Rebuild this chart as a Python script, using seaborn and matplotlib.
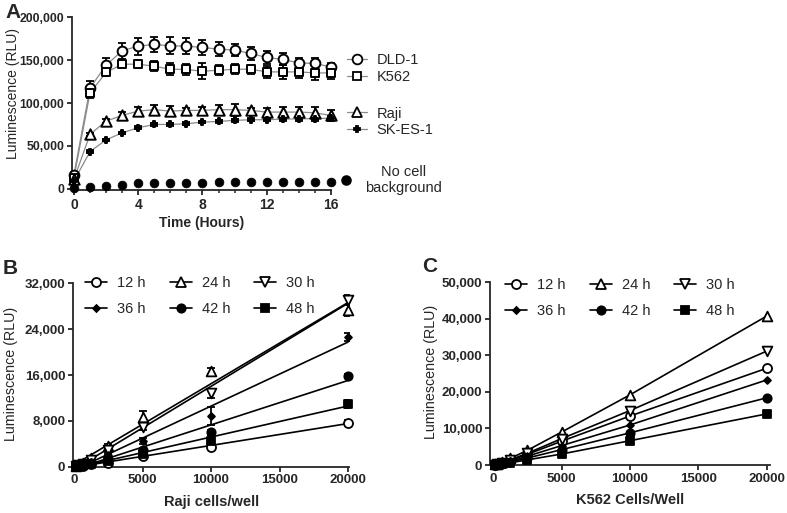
"""
Luminescence time course (A) and cell titration curves (B, C).
"""

import numpy as np
import pandas as pd
import matplotlib
matplotlib.use("Agg")
import matplotlib.pyplot as plt
import seaborn as sns
from matplotlib.lines import Line2D
from matplotlib.ticker import MultipleLocator, StrMethodFormatter

# ---- panel A data: time course ----
hours = list(range(17))
dld1 = [16000, 117500, 144100, 160900, 166400, 168300, 166700, 166400, 164800,
        162900, 161700, 157800, 153100, 150800, 146800, 146100, 142100]
dld1_err = [3000, 8000, 8000, 9000, 10000, 9000, 10000, 9000, 9000,
            8000, 7000, 8000, 8000, 7000, 6000, 6000, 5000]
k562 = [13000, 111700, 135600, 145300, 145300, 142900, 139400, 139100, 137100,
        138200, 139400, 139400, 136300, 136300, 136300, 135100, 135100]
k562_err = [3000, 6000, 4000, 3000, 4000, 6000, 7000, 6000, 9000,
            6000, 6000, 5000, 7000, 8000, 7000, 8000, 7000]
raji = [11000, 63300, 78900, 85500, 90600, 92200, 90600, 91400, 91400,
        92200, 92200, 91400, 89400, 89400, 89400, 88600, 85500]
raji_err = [2000, 2000, 2000, 4000, 5000, 6000, 6000, 3000, 4000,
            6000, 7000, 3000, 5000, 6000, 6000, 7000, 6000]
skes1 = [9000, 43300, 57000, 65200, 71100, 75000, 75000, 75800, 77700,
         78500, 79700, 80500, 80500, 81200, 81500, 81800, 82400]
skes1_err = [1500, 1500, 1500, 1500, 1500, 1500, 1500, 1500, 1500,
             1500, 2000, 2000, 2000, 2000, 2500, 2500, 2500]
nocell = [500, 1500, 2700, 4700, 6200, 7000, 7000, 7000, 7000,
          7400, 7400, 7400, 7400, 7400, 7400, 7400, 7400]

# ---- panels B, C data: cells per well ----
cells = [156, 312, 625, 1250, 2500, 5000, 10000, 20000]
time_labels = ["12 h", "24 h", "30 h", "36 h", "42 h", "48 h"]

raji_cells = {
    "12 h": [50, 100, 200, 400, 700, 1800, 3400, 7700],
    "24 h": [150, 300, 700, 1500, 3600, 8700, 16700, 27300],
    "30 h": [120, 250, 550, 1200, 2900, 7000, 12800, 29100],
    "36 h": [100, 200, 400, 900, 2000, 4500, 8900, 22700],
    "42 h": [80, 150, 300, 600, 1300, 3000, 6000, 15800],
    "48 h": [60, 120, 250, 500, 1000, 2200, 4500, 11000],
}
raji_cells_err = {
    "12 h": [0, 0, 0, 50, 100, 300, 400, 500],
    "24 h": [0, 50, 100, 200, 300, 1000, 600, 1000],
    "30 h": [0, 50, 100, 200, 300, 600, 800, 800],
    "36 h": [0, 0, 50, 100, 300, 500, 1600, 700],
    "42 h": [0, 0, 50, 100, 200, 300, 400, 400],
    "48 h": [0, 0, 50, 100, 200, 300, 400, 700],
}
k562_cells = {
    "12 h": [100, 250, 550, 1250, 2900, 6500, 13400, 26500],
    "24 h": [150, 350, 800, 1800, 4000, 9000, 19200, 40800],
    "30 h": [120, 280, 600, 1400, 3200, 7200, 14900, 31200],
    "36 h": [90, 200, 450, 1000, 2400, 5300, 10950, 23300],
    "42 h": [70, 160, 350, 800, 1900, 4200, 8800, 18400],
    "48 h": [50, 120, 280, 600, 1400, 3000, 6650, 14000],
}

W, H = 787, 513

sns.set_style("ticks")
plt.rcParams["font.family"] = ["Liberation Sans", "DejaVu Sans"]
plt.rcParams["axes.linewidth"] = 1.3
plt.rcParams["xtick.major.width"] = 1.3
plt.rcParams["ytick.major.width"] = 1.3
plt.rcParams["xtick.minor.width"] = 1.1
plt.rcParams["xtick.major.size"] = 3.5
plt.rcParams["ytick.major.size"] = 3.5
plt.rcParams["xtick.minor.size"] = 2.2

fig = plt.figure(figsize=(W / 100, H / 100), dpi=100)


def px_axes(left, top, right, bottom):
    return fig.add_axes([left / W, 1 - bottom / H, (right - left) / W, (bottom - top) / H])


def style_ticks(ax, size=9.5):
    for lab in ax.get_xticklabels() + ax.get_yticklabels():
        lab.set_fontweight("bold")
        lab.set_fontsize(size)


# ================= Panel A =================
axA = px_axes(72, 17.3, 331, 190)
series_a = [
    ("DLD-1", dld1, dld1_err, "o", "white", 7.0),
    ("K562", k562, k562_err, "s", "white", 6.3),
    ("Raji", raji, raji_err, "^", "white", 7.5),
    ("SK-ES-1", skes1, skes1_err, "P", "black", 5.0),
]
for name, vals, err, mk, fc, ms in series_a:
    df = pd.DataFrame({"h": hours, "v": vals})
    sns.lineplot(data=df, x="h", y="v", ax=axA, color="#8a8a8a", lw=0.9, zorder=2)
    axA.errorbar(hours, vals, yerr=err, fmt="none", ecolor="black", elinewidth=1.3,
                 capsize=3.2, capthick=1.3, zorder=3, clip_on=False)
    sns.scatterplot(data=df, x="h", y="v", ax=axA, marker=mk, s=ms ** 2,
                    facecolor=fc, edgecolor="black", linewidth=1.4, zorder=4, clip_on=False)

df_nc = pd.DataFrame({"h": hours, "v": nocell})
sns.scatterplot(data=df_nc, x="h", y="v", ax=axA, marker="o", s=40, color="black",
                edgecolor="black", zorder=4, clip_on=False)

axA.set_xlim(-0.12, 16)
axA.set_ylim(-1500, 200000)
axA.xaxis.set_major_locator(MultipleLocator(4))
axA.xaxis.set_minor_locator(MultipleLocator(1))
axA.yaxis.set_major_locator(MultipleLocator(50000))
axA.yaxis.set_major_formatter(StrMethodFormatter("{x:,.0f}"))
sns.despine(ax=axA)
axA.set_xlabel("Time (Hours)", fontsize=10, fontweight="bold", labelpad=3)
axA.set_ylabel("Luminescence (RLU)", fontsize=10)
axA.yaxis.set_label_coords(-0.2, 0.56)
axA.tick_params(axis="both", pad=2)
style_ticks(axA, 10)
for lab in axA.get_yticklabels():
    lab.set_fontsize(8.8)

# legends for A
def a_handle(mk, fc, ms, line=True):
    return Line2D([], [], color="#8a8a8a" if line else "none", lw=0.9, marker=mk,
                  markersize=ms, markerfacecolor=fc, markeredgecolor="black",
                  markeredgewidth=1.3)


leg_kw = dict(frameon=False, fontsize=10.5, borderpad=0, borderaxespad=0,
              handlelength=1.37, handletextpad=0.65, labelspacing=0.2,
              loc="center left", bbox_transform=fig.transFigure)
legA1 = axA.legend([a_handle("o", "white", 7), a_handle("s", "white", 6.3)],
                   ["DLD-1", "K562"], bbox_to_anchor=(347 / W, 1 - 68.5 / H), **leg_kw)
axA.add_artist(legA1)
legA2 = axA.legend([a_handle("^", "white", 7.5), a_handle("P", "black", 5)],
                   ["Raji", "SK-ES-1"], bbox_to_anchor=(347 / W, 1 - 122 / H), **leg_kw)
axA.add_artist(legA2)
legA3 = axA.legend([a_handle("o", "black", 6.3, line=False)], ["No cell\nbackground"],
                   bbox_to_anchor=(336 / W, 1 - 180 / H), **leg_kw)
for t in legA3.get_texts():
    t.set_multialignment("center")

# ================= Panels B and C =================
markers = {
    "12 h": ("o", "white", 6.5),
    "24 h": ("^", "white", 7.0),
    "30 h": ("v", "white", 7.0),
    "36 h": ("D", "black", 3.5),
    "42 h": ("o", "black", 6.0),
    "48 h": ("s", "black", 6.0),
}


def titration(ax, data, err=None, fit=False):
    for lab in time_labels:
        mk, fc, ms = markers[lab]
        df = pd.DataFrame({"cells": cells, "rlu": data[lab]})
        if fit:
            sns.regplot(data=df, x="cells", y="rlu", ax=ax, ci=None, scatter=False,
                        line_kws=dict(color="black", lw=1.2, zorder=2))
        else:
            sns.lineplot(data=df, x="cells", y="rlu", ax=ax, color="black", lw=1.2, zorder=2)
        if err is not None:
            ax.errorbar(cells, data[lab], yerr=err[lab], fmt="none", ecolor="black",
                        elinewidth=1.3, capsize=3, capthick=1.3, zorder=3)
        sns.scatterplot(data=df, x="cells", y="rlu", ax=ax, marker=mk, s=ms ** 2,
                        facecolor=fc, edgecolor="black", linewidth=1.3, zorder=4,
                        clip_on=False)
    ax.set_xticks([0, 5000, 10000, 15000, 20000])
    ax.yaxis.set_major_formatter(StrMethodFormatter("{x:,.0f}"))
    sns.despine(ax=ax)
    ax.tick_params(axis="both", pad=2)
    style_ticks(ax, 9.5)
    # legend: rows 12/24/30 and 36/42/48, column-major order for ncol=3
    order = ["12 h", "36 h", "24 h", "42 h", "30 h", "48 h"]
    handles = [Line2D([], [], color="black", lw=1.2, marker=markers[o][0],
                      markersize=markers[o][2], markerfacecolor=markers[o][1],
                      markeredgecolor="black", markeredgewidth=1.3) for o in order]
    return handles, order


legBC = dict(ncol=3, frameon=False, fontsize=10.5, borderpad=0, borderaxespad=0,
             handlelength=1.5, handletextpad=0.7, columnspacing=1.65, labelspacing=0.8,
             loc="upper left", bbox_transform=fig.transFigure)

axB = px_axes(73, 283.3, 349.4, 466.7)
hB, oB = titration(axB, raji_cells, raji_cells_err, fit=True)
axB.set_xlim(-73, 20100)
axB.set_ylim(0, 32000)
axB.set_yticks([0, 8000, 16000, 24000, 32000])
axB.set_xlabel("Raji cells/well", fontsize=10.5, fontweight="bold", labelpad=6)
axB.set_ylabel("Luminescence (RLU)", fontsize=10.3)
axB.yaxis.set_label_coords(-0.199, 0.505)
axB.legend(hB, oB, bbox_to_anchor=(85 / W, 1 - 276 / H), **legBC)

axC = px_axes(490, 282.3, 770, 465)
hC, oC = titration(axC, k562_cells, None, fit=False)
axC.set_xlim(-219, 20219)
axC.set_ylim(0, 50000)
axC.set_yticks([0, 10000, 20000, 30000, 40000, 50000])
axC.set_xlabel("K562 Cells/Well", fontsize=10.5, fontweight="bold", labelpad=6)
axC.set_ylabel("Luminescence (RLU)", fontsize=10.3)
axC.yaxis.set_label_coords(-0.186, 0.51)
axC.legend(hC, oC, bbox_to_anchor=(505 / W, 1 - 278 / H), **legBC)

# panel letters
for letter, x, y in [("A", 5, 12), ("B", 3, 268), ("C", 422, 267)]:
    fig.text(x / W, 1 - y / H, letter, fontsize=15, fontweight="bold", va="center", ha="left")

fig.savefig("out.png", dpi=100)
